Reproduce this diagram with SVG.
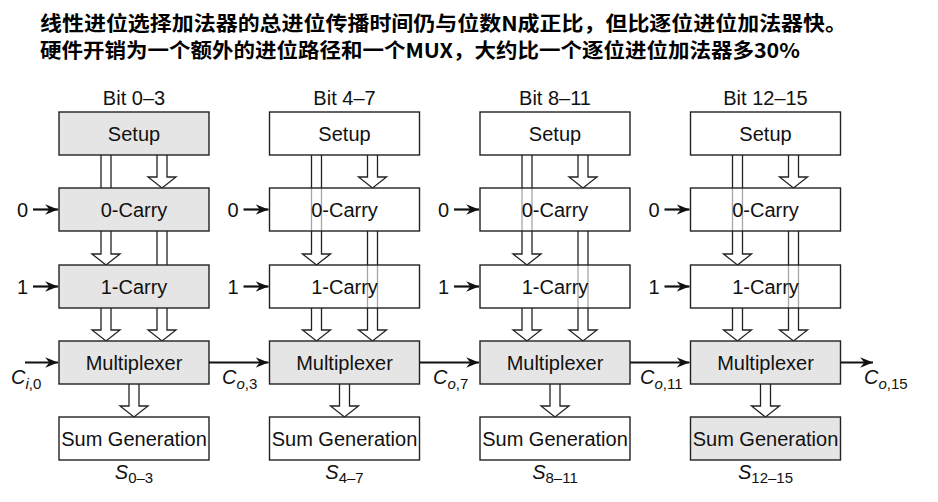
<svg xmlns="http://www.w3.org/2000/svg" width="938" height="502" viewBox="0 0 938 502">
<defs>
<style>
.box{stroke:#222;stroke-width:1.4}
.g{fill:#e5e5e5}
.w{fill:#fff;fill-opacity:0.6}
.lbl{font-family:"Liberation Sans",Arial,sans-serif;font-size:20px;fill:#111;text-anchor:middle}
.sym{font-family:"Liberation Sans",Arial,sans-serif;font-size:20px;fill:#111}
.it{font-style:italic}
.sub{font-size:15px}
.ha{fill:#fff;stroke:#222;stroke-width:1.3}
.la{stroke:#111;stroke-width:2.2;fill:none;marker-end:url(#ah)}
.title{font-family:"Noto Sans CJK SC","Noto Sans CJK JP",sans-serif;font-size:20px;font-weight:700;fill:#000}
</style>
<marker id="ah" markerUnits="userSpaceOnUse" markerWidth="14" markerHeight="12" viewBox="-11 -5 12 10" refX="0" refY="0" orient="auto">
<path d="M0,0 L-11,-4.5 L-7.5,0 L-11,4.5 Z" fill="#111"/>
</marker>
</defs>
<rect width="938" height="502" fill="#fff"/>
<g id="title">
<text class="title" x="40" y="31" textLength="807" lengthAdjust="spacingAndGlyphs">线性进位选择加法器的总进位传播时间仍与位数N成正比，但比逐位进位加法器快。</text>
<text class="title" x="40" y="58" textLength="760" lengthAdjust="spacingAndGlyphs">硬件开销为一个额外的进位路径和一个MUX，大约比一个逐位进位加法器多30%</text>
</g>
<g id="connectors">
<g transform="translate(59,0)">
<path class="ha" d="M98,155 V177 H89 L103,188 L117,177 H108 V155"/>
<path class="ha" d="M42,155 V254 H33 L47,265 L61,254 H52 V155"/>
<path class="ha" d="M98,231 V330 H89 L103,341 L117,330 H108 V231"/>
<path class="ha" d="M42,308 V330 H33 L47,341 L61,330 H52 V308"/>
<path class="ha" d="M70,384 V406 H61 L75,417 L89,406 H80 V384"/>
<line class="la" x1="-26" y1="209.5" x2="-1" y2="209.5"/>
<line class="la" x1="-26" y1="286.5" x2="-1" y2="286.5"/>
</g>
<g transform="translate(269.5,0)">
<path class="ha" d="M98,155 V177 H89 L103,188 L117,177 H108 V155"/>
<path class="ha" d="M42,155 V254 H33 L47,265 L61,254 H52 V155"/>
<path class="ha" d="M98,231 V330 H89 L103,341 L117,330 H108 V231"/>
<path class="ha" d="M42,308 V330 H33 L47,341 L61,330 H52 V308"/>
<path class="ha" d="M70,384 V406 H61 L75,417 L89,406 H80 V384"/>
<line class="la" x1="-26" y1="209.5" x2="-1" y2="209.5"/>
<line class="la" x1="-26" y1="286.5" x2="-1" y2="286.5"/>
</g>
<g transform="translate(480,0)">
<path class="ha" d="M98,155 V177 H89 L103,188 L117,177 H108 V155"/>
<path class="ha" d="M42,155 V254 H33 L47,265 L61,254 H52 V155"/>
<path class="ha" d="M98,231 V330 H89 L103,341 L117,330 H108 V231"/>
<path class="ha" d="M42,308 V330 H33 L47,341 L61,330 H52 V308"/>
<path class="ha" d="M70,384 V406 H61 L75,417 L89,406 H80 V384"/>
<line class="la" x1="-26" y1="209.5" x2="-1" y2="209.5"/>
<line class="la" x1="-26" y1="286.5" x2="-1" y2="286.5"/>
</g>
<g transform="translate(690.5,0)">
<path class="ha" d="M98,155 V177 H89 L103,188 L117,177 H108 V155"/>
<path class="ha" d="M42,155 V254 H33 L47,265 L61,254 H52 V155"/>
<path class="ha" d="M98,231 V330 H89 L103,341 L117,330 H108 V231"/>
<path class="ha" d="M42,308 V330 H33 L47,341 L61,330 H52 V308"/>
<path class="ha" d="M70,384 V406 H61 L75,417 L89,406 H80 V384"/>
<line class="la" x1="-26" y1="209.5" x2="-1" y2="209.5"/>
<line class="la" x1="-26" y1="286.5" x2="-1" y2="286.5"/>
</g>
<line class="la" x1="25" y1="362.5" x2="58" y2="362.5"/>
<line class="la" x1="209" y1="362.5" x2="268.5" y2="362.5"/>
<line class="la" x1="419.5" y1="362.5" x2="479" y2="362.5"/>
<line class="la" x1="630" y1="362.5" x2="689.5" y2="362.5"/>
<line class="la" x1="840.5" y1="362.5" x2="873" y2="362.5"/>
</g>
<g id="labels">
<text class="sym" x="17" y="217">0</text>
<text class="sym" x="17" y="294">1</text>
<text class="sym" x="227.5" y="217">0</text>
<text class="sym" x="227.5" y="294">1</text>
<text class="sym" x="438" y="217">0</text>
<text class="sym" x="438" y="294">1</text>
<text class="sym" x="648.5" y="217">0</text>
<text class="sym" x="648.5" y="294">1</text>
<text class="sym" x="11" y="384"><tspan class="it">C</tspan><tspan class="it sub" dy="5">i</tspan><tspan class="sub">,0</tspan></text>
<text class="sym" x="222" y="384"><tspan class="it">C</tspan><tspan class="it sub" dy="5">o</tspan><tspan class="sub">,3</tspan></text>
<text class="sym" x="433" y="384"><tspan class="it">C</tspan><tspan class="it sub" dy="5">o</tspan><tspan class="sub">,7</tspan></text>
<text class="sym" x="640" y="384"><tspan class="it">C</tspan><tspan class="it sub" dy="5">o</tspan><tspan class="sub">,11</tspan></text>
<text class="sym" x="864" y="384"><tspan class="it">C</tspan><tspan class="it sub" dy="5">o</tspan><tspan class="sub">,15</tspan></text>
</g>
<g transform="translate(59,0)">
<text class="lbl" x="75" y="105">Bit 0–3</text>
<g id="setup0"><rect class="box g" x="0" y="112" width="150" height="43"/><text class="lbl" x="75" y="141">Setup</text></g>
<g id="carry0_0"><rect class="box g" x="0" y="188" width="150" height="43"/><text class="lbl" x="75" y="217">0-Carry</text></g>
<g id="carry1_0"><rect class="box g" x="0" y="265" width="150" height="43"/><text class="lbl" x="75" y="294">1-Carry</text></g>
<g id="mux0"><rect class="box g" x="0" y="341" width="150" height="43"/><text class="lbl" x="75" y="370">Multiplexer</text></g>
<g id="sum0"><rect class="box w" x="0" y="417" width="150" height="43"/><text class="lbl" x="75" y="446">Sum Generation</text></g>
<text class="lbl" x="75" y="479"><tspan class="it">S</tspan><tspan class="sub" dy="4">0–3</tspan></text>
</g>
<g transform="translate(269.5,0)">
<text class="lbl" x="75" y="105">Bit 4–7</text>
<g id="setup1"><rect class="box w" x="0" y="112" width="150" height="43"/><text class="lbl" x="75" y="141">Setup</text></g>
<g id="carry0_1"><rect class="box w" x="0" y="188" width="150" height="43"/><text class="lbl" x="75" y="217">0-Carry</text></g>
<g id="carry1_1"><rect class="box w" x="0" y="265" width="150" height="43"/><text class="lbl" x="75" y="294">1-Carry</text></g>
<g id="mux1"><rect class="box g" x="0" y="341" width="150" height="43"/><text class="lbl" x="75" y="370">Multiplexer</text></g>
<g id="sum1"><rect class="box w" x="0" y="417" width="150" height="43"/><text class="lbl" x="75" y="446">Sum Generation</text></g>
<text class="lbl" x="75" y="479"><tspan class="it">S</tspan><tspan class="sub" dy="4">4–7</tspan></text>
</g>
<g transform="translate(480,0)">
<text class="lbl" x="75" y="105">Bit 8–11</text>
<g id="setup2"><rect class="box w" x="0" y="112" width="150" height="43"/><text class="lbl" x="75" y="141">Setup</text></g>
<g id="carry0_2"><rect class="box w" x="0" y="188" width="150" height="43"/><text class="lbl" x="75" y="217">0-Carry</text></g>
<g id="carry1_2"><rect class="box w" x="0" y="265" width="150" height="43"/><text class="lbl" x="75" y="294">1-Carry</text></g>
<g id="mux2"><rect class="box g" x="0" y="341" width="150" height="43"/><text class="lbl" x="75" y="370">Multiplexer</text></g>
<g id="sum2"><rect class="box w" x="0" y="417" width="150" height="43"/><text class="lbl" x="75" y="446">Sum Generation</text></g>
<text class="lbl" x="75" y="479"><tspan class="it">S</tspan><tspan class="sub" dy="4">8–11</tspan></text>
</g>
<g transform="translate(690.5,0)">
<text class="lbl" x="75" y="105">Bit 12–15</text>
<g id="setup3"><rect class="box w" x="0" y="112" width="150" height="43"/><text class="lbl" x="75" y="141">Setup</text></g>
<g id="carry0_3"><rect class="box w" x="0" y="188" width="150" height="43"/><text class="lbl" x="75" y="217">0-Carry</text></g>
<g id="carry1_3"><rect class="box w" x="0" y="265" width="150" height="43"/><text class="lbl" x="75" y="294">1-Carry</text></g>
<g id="mux3"><rect class="box g" x="0" y="341" width="150" height="43"/><text class="lbl" x="75" y="370">Multiplexer</text></g>
<g id="sum3"><rect class="box g" x="0" y="417" width="150" height="43"/><text class="lbl" x="75" y="446">Sum Generation</text></g>
<text class="lbl" x="75" y="479"><tspan class="it">S</tspan><tspan class="sub" dy="4">12–15</tspan></text>
</g>
</svg>
